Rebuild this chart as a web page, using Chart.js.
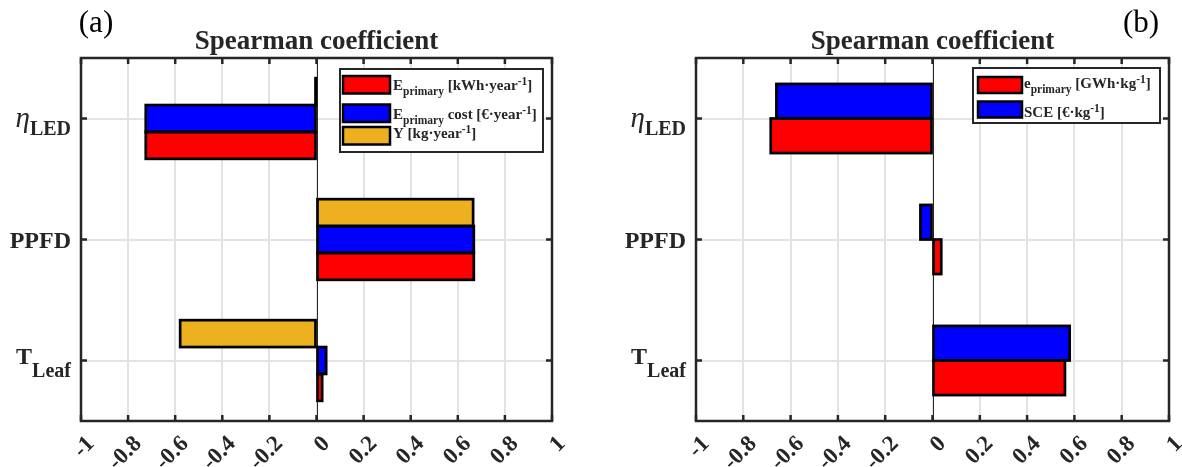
<!DOCTYPE html>
<html>
<head>
<meta charset="utf-8">
<script src="https://cdn.jsdelivr.net/npm/chart.js@4.4.1/dist/chart.umd.min.js"></script>
<style>
  html, body { margin: 0; padding: 0; background: #fff; }
  #wrap { position: relative; width: 1182px; height: 467px; overflow: hidden; }
  .panel { position: absolute; top: 0; width: 591px; height: 467px; }
</style>
</head>
<body>
<div id="wrap">
  <div class="panel" style="left:0"><canvas id="chartA" width="591" height="467"></canvas></div>
  <div class="panel" style="left:591px"><canvas id="chartB" width="591" height="467"></canvas></div>
</div>
<script>
// shared axes
const categories = ['η_{LED}', 'PPFD', 'T_{Leaf}'];
const xTicks = [-1, -0.8, -0.6, -0.4, -0.2, 0, 0.2, 0.4, 0.6, 0.8, 1];

// panel (a)
const labelsA = ['E_{primary} [kWh·year^{-1}]', 'E_{primary} cost [€·year^{-1}]', 'Y [kg·year^{-1}]'];
const ePrimaryA = [-0.725, 0.668, 0.024];
const costA = [-0.725, 0.668, 0.041];
const yieldA = [-0.003, 0.665, -0.579];

// panel (b)
const labelsB = ['e_{primary} [GWh·kg^{-1}]', 'SCE [€·kg^{-1}]'];
const ePrimaryB = [-0.684, 0.037, 0.56];
const sceB = [-0.66, -0.051, 0.58];

const RED = '#ff0000', BLUE = '#0000ff', GOLD = '#edb120';
const INK = '#262626', GRID = '#e3e3e3';
const SERIF = '"Liberation Serif", "Times New Roman", serif';

// --- tiny rich text: "A_{sub}" and "B^{sup}", greek letters in italic ---
function parseRich(str) {
  const runs = [];
  const pushBase = s => {
    s.split(/([\u0370-\u03ff])/).forEach(p => {
      if (p) runs.push({ text: p, mode: /[\u0370-\u03ff]/.test(p) ? 'greek' : 'base' });
    });
  };
  const re = /([_^])\{([^}]*)\}/g;
  let last = 0, m;
  while ((m = re.exec(str)) !== null) {
    if (m.index > last) pushBase(str.slice(last, m.index));
    runs.push({ text: m[2], mode: m[1] === '_' ? 'sub' : 'sup' });
    last = re.lastIndex;
  }
  if (last < str.length) pushBase(str.slice(last));
  return runs;
}

function runFont(run, st) {
  if (run.mode === 'greek') return `italic ${st.greekSize}px ${SERIF}`;
  if (run.mode === 'base') return `bold ${st.size}px ${SERIF}`;
  return `bold ${st.smallSize}px ${SERIF}`;
}

function runDy(run, st) {
  if (run.mode === 'sub') return st.subDy;
  if (run.mode === 'sup') return st.supDy;
  if (run.mode === 'greek') return st.greekDy;
  return 0;
}

function drawRich(ctx, str, x, y, st, align) {
  const runs = parseRich(str);
  ctx.save();
  ctx.textBaseline = 'alphabetic';
  ctx.textAlign = 'left';
  ctx.fillStyle = INK;
  const widths = runs.map(r => { ctx.font = runFont(r, st); return ctx.measureText(r.text).width; });
  let cx = align === 'right' ? x - widths.reduce((a, b) => a + b, 0) : x;
  runs.forEach((r, i) => {
    ctx.font = runFont(r, st);
    ctx.fillText(r.text, cx, y + runDy(r, st));
    cx += widths[i];
  });
  ctx.restore();
}

const yLabelStyle = { size: 24, smallSize: 20, greekSize: 29, subDy: 13, supDy: -8, greekDy: 5 };
const legendStyle = { size: 15, smallSize: 11.5, greekSize: 15, subDy: 5, supDy: -5, greekDy: 0 };

// axes box, inward ticks, zero line, bar edges, labels, title and legend
const framePlugin = {
  id: 'frame',
  beforeDatasetsDraw(chart) {
    const { ctx, chartArea: a, scales: { x } } = chart;
    const x0 = Math.round(x.getPixelForValue(0)) + 0.5;
    ctx.save();
    ctx.strokeStyle = INK;
    ctx.lineWidth = 1;
    ctx.beginPath();
    ctx.moveTo(x0, a.top);
    ctx.lineTo(x0, a.bottom);
    ctx.stroke();
    ctx.restore();
  },
  afterDatasetsDraw(chart, args, opts) {
    const { ctx, chartArea: a, scales: { x, y } } = chart;
    ctx.save();

    // bar outlines, centred on the bar edges
    ctx.strokeStyle = '#000';
    ctx.lineWidth = 2.7;
    chart.data.datasets.forEach((ds, di) => {
      chart.getDatasetMeta(di).data.forEach(bar => {
        const p = bar.getProps(['x', 'y', 'base', 'height']);
        const left = Math.min(p.x, p.base);
        ctx.strokeRect(left, p.y - p.height / 2, Math.abs(p.x - p.base), p.height);
      });
    });

    // legend
    const lg = opts.legend;
    ctx.fillStyle = '#fff';
    ctx.fillRect(lg.box[0], lg.box[1], lg.box[2], lg.box[3]);
    ctx.strokeStyle = INK;
    ctx.lineWidth = 2;
    ctx.strokeRect(lg.box[0], lg.box[1], lg.box[2], lg.box[3]);
    lg.labels.forEach((txt, i) => {
      ctx.fillStyle = lg.colors[i];
      ctx.fillRect(lg.swatchX, lg.swatchY[i], lg.swatchW, lg.swatchH);
      ctx.strokeStyle = '#000';
      ctx.lineWidth = 2.5;
      ctx.strokeRect(lg.swatchX, lg.swatchY[i], lg.swatchW, lg.swatchH);
      drawRich(ctx, txt, lg.textX, lg.baseY[i], legendStyle, 'left');
    });

    // box and ticks
    ctx.strokeStyle = INK;
    ctx.lineWidth = 2.5;
    ctx.strokeRect(a.left, a.top, a.right - a.left, a.bottom - a.top);
    ctx.beginPath();
    xTicks.forEach(v => {
      const px = x.getPixelForValue(v);
      ctx.moveTo(px, a.bottom); ctx.lineTo(px, a.bottom - 6);
      ctx.moveTo(px, a.top); ctx.lineTo(px, a.top + 6);
    });
    categories.forEach((c, i) => {
      const py = y.getPixelForValue(i);
      ctx.moveTo(a.left, py); ctx.lineTo(a.left + 6, py);
      ctx.moveTo(a.right, py); ctx.lineTo(a.right - 6, py);
    });
    ctx.stroke();

    // x tick labels, turned 45 degrees, ending just below-right of the tick
    ctx.fillStyle = INK;
    ctx.font = `bold 23px ${SERIF}`;
    ctx.textAlign = 'right';
    ctx.textBaseline = 'middle';
    xTicks.forEach(v => {
      ctx.save();
      ctx.translate(x.getPixelForValue(v) + 10, a.bottom + 19.5);
      ctx.rotate(-Math.PI / 4);
      ctx.fillText(String(v), 0, 0);
      ctx.restore();
    });

    // category labels
    categories.forEach((c, i) => {
      const py = y.getPixelForValue(i);
      const base = c.includes('_{') ? py + 3 : py + 8;
      drawRich(ctx, c, a.left - 10, base, yLabelStyle, 'right');
    });

    // title and panel letter
    ctx.fillStyle = INK;
    ctx.textBaseline = 'alphabetic';
    ctx.textAlign = 'center';
    ctx.font = `bold 27px ${SERIF}`;
    ctx.fillText('Spearman coefficient', (a.left + a.right) / 2, 49);
    ctx.fillStyle = '#000';
    ctx.font = `31px ${SERIF}`;
    ctx.fillText(opts.letter, opts.letterX, 32);
    ctx.restore();
  }
};

function barSet(data, color, pct) {
  return {
    data,
    backgroundColor: color,
    borderWidth: 0,
    categoryPercentage: pct,
    barPercentage: 1
  };
}

function makeChart(id, datasets, p) {
  return new Chart(document.getElementById(id), {
    type: 'bar',
    data: { labels: categories, datasets },
    options: {
      indexAxis: 'y',
      responsive: false,
      devicePixelRatio: 1,
      animation: false,
      layout: { padding: { top: 58, right: p.padRight, left: 0, bottom: 0 } },
      plugins: {
        legend: { display: false },
        tooltip: { enabled: false },
        frame: p
      },
      scales: {
        y: {
          type: 'category',
          offset: true,
          grid: { offset: false, color: GRID, lineWidth: 2, drawTicks: false },
          border: { display: false },
          ticks: { display: false },
          afterFit: s => { s.width = p.yWidth; }
        },
        x: {
          type: 'linear',
          min: -1,
          max: 1,
          afterBuildTicks: s => { s.ticks = xTicks.map(v => ({ value: v })); },
          grid: { color: GRID, lineWidth: 2, drawTicks: false },
          border: { display: false },
          ticks: { display: false },
          afterFit: s => {
            s.height = 46;
            s.paddingLeft = 0;
            s.paddingRight = 0;
          }
        }
      }
    },
    plugins: [framePlugin]
  });
}

// bars within a group run top-to-bottom in dataset order
makeChart('chartA', [
  barSet(yieldA, GOLD, 2 / 3),
  barSet(costA, BLUE, 2 / 3),
  barSet(ePrimaryA, RED, 2 / 3)
], {
  yWidth: 81, padRight: 39, letter: '(a)', letterX: 96,
  legend: {
    labels: labelsA, colors: [RED, BLUE, GOLD],
    box: [340, 69, 203, 83],
    swatchX: 343, swatchW: 47, swatchH: 17.5,
    swatchY: [76, 104.5, 127], baseY: [90, 118.5, 138], textX: 393
  }
});

makeChart('chartB', [
  barSet(sceB, BLUE, 4 / 7),
  barSet(ePrimaryB, RED, 4 / 7)
], {
  yWidth: 105, padRight: 13, letter: '(b)', letterX: 550,
  legend: {
    labels: labelsB, colors: [RED, BLUE],
    box: [382, 68, 187, 55],
    swatchX: 387, swatchW: 44, swatchH: 16,
    swatchY: [77, 101.5], baseY: [88, 117], textX: 433
  }
});
</script>
</body>
</html>
